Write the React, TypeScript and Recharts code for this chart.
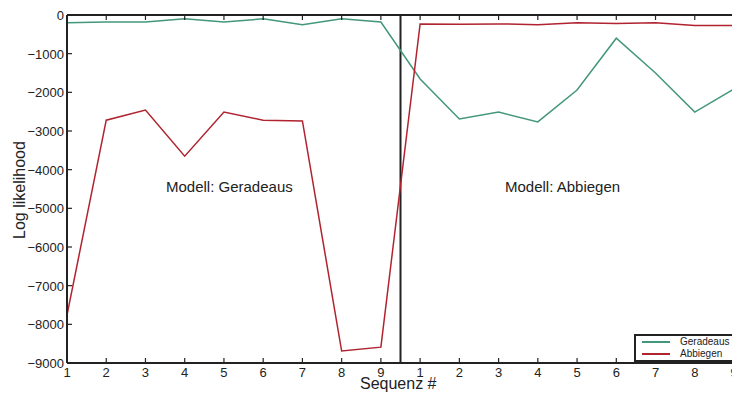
import { LineChart, Line, XAxis, YAxis, ReferenceLine } from "recharts";

// sequence labels: first block (Modell: Geradeaus), then second block (Modell: Abbiegen)
const seqLabels = ["1", "2", "3", "4", "5", "6", "7", "8", "9", "1", "2", "3", "4", "5", "6", "7", "8", "9"];
const geradeaus = [-200, -180, -180, -100, -180, -100, -250, -100, -180, -1655, -2690, -2510, -2765, -1940, -600, -1500, -2510, -1910];
const abbiegen = [-7760, -2720, -2460, -3650, -2510, -2720, -2740, -8690, -8590, -230, -240, -230, -250, -200, -220, -200, -270, -270];
const yTicks = [0, -1000, -2000, -3000, -4000, -5000, -6000, -7000, -8000, -9000];

const GREEN = "#43977a";
const RED = "#b0232f";
const INK = "#222";
const FONT = "'Liberation Sans', Arial, sans-serif";

const rows = seqLabels.map((label, i) => ({
  idx: i,
  label,
  Geradeaus: geradeaus[i],
  Abbiegen: abbiegen[i],
}));
const xTicks = rows.map((r) => r.idx);

const BottomTick = ({ x, y, payload }: any) => (
  <g>
    <line x1={x} y1={y} x2={x} y2={y - 5} stroke={INK} strokeWidth={1.2} />
    <text x={x} y={y + 14} textAnchor="middle" fontSize={13} fill={INK} fontFamily={FONT}>
      {seqLabels[payload.value]}
    </text>
  </g>
);

const TopTick = ({ x, y }: any) => <line x1={x} y1={y} x2={x} y2={y + 5} stroke={INK} strokeWidth={1.2} />;

const LeftTick = ({ x, y, payload }: any) => (
  <g>
    <line x1={x} y1={y} x2={x + 5} y2={y} stroke={INK} strokeWidth={1.2} />
    <text x={x - 3} y={y + 5} textAnchor="end" fontSize={13} fill={INK} fontFamily={FONT}>
      {payload.value === 0 ? "0" : "\u2212" + Math.abs(payload.value)}
    </text>
  </g>
);

const RightTick = ({ x, y }: any) => <line x1={x} y1={y} x2={x - 5} y2={y} stroke={INK} strokeWidth={1.2} />;

const overlay = (text: string, left: number, top: number, extra: any = {}) => (
  <div
    style={{
      position: "absolute",
      left,
      top,
      fontFamily: FONT,
      fontSize: 15,
      color: INK,
      whiteSpace: "nowrap",
      ...extra,
    }}
  >
    {text}
  </div>
);

export default function App() {
  return (
    <div style={{ position: "absolute", left: 0, top: 0, width: 732, height: 396, overflow: "hidden", background: "#fff" }}>
      <LineChart width={740} height={396} data={rows} margin={{ top: 14, right: 5, bottom: 3, left: 7 }}>
        <XAxis
          dataKey="idx"
          type="number"
          domain={[0, 17]}
          ticks={xTicks}
          height={30}
          tickSize={0}
          tickMargin={0}
          tickLine={false}
          tick={BottomTick}
          axisLine={{ stroke: INK, strokeWidth: 2 }}
          interval={0}
        />
        <XAxis
          xAxisId="top"
          orientation="top"
          dataKey="idx"
          type="number"
          domain={[0, 17]}
          ticks={xTicks}
          height={1}
          tickSize={0}
          tickMargin={0}
          tickLine={false}
          tick={TopTick}
          axisLine={{ stroke: INK, strokeWidth: 2 }}
          interval={0}
        />
        <YAxis
          domain={[-9000, 0]}
          ticks={yTicks}
          width={60}
          tickSize={0}
          tickMargin={0}
          tickLine={false}
          tick={LeftTick}
          axisLine={{ stroke: INK, strokeWidth: 2 }}
          interval={0}
        />
        <YAxis
          yAxisId="r"
          orientation="right"
          domain={[-9000, 0]}
          ticks={yTicks}
          width={1}
          tickSize={0}
          tickMargin={0}
          tickLine={false}
          tick={RightTick}
          axisLine={{ stroke: INK, strokeWidth: 2 }}
          interval={0}
        />
        <ReferenceLine x={8.5} stroke={INK} strokeWidth={2} />
        <Line dataKey="Geradeaus" stroke={GREEN} strokeWidth={1.5} dot={false} isAnimationActive={false} />
        <Line dataKey="Abbiegen" stroke={RED} strokeWidth={1.5} dot={false} isAnimationActive={false} />
      </LineChart>
      <div
        style={{
          position: "absolute",
          left: 634,
          top: 334,
          width: 98,
          border: `2px solid ${INK}`,
          borderRight: "none",
          background: "#fff",
          padding: "0 0 0 6px",
          fontFamily: FONT,
          fontSize: 10,
          color: INK,
          lineHeight: "12px",
          boxSizing: "border-box",
        }}
      >
        {[
          ["Geradeaus", GREEN],
          ["Abbiegen", RED],
        ].map(([name, color]) => (
          <div key={name} style={{ display: "flex", alignItems: "center" }}>
            <span style={{ display: "inline-block", width: 28, height: 0, borderTop: `2px solid ${color}`, marginRight: 10 }} />
            {name}
          </div>
        ))}
      </div>
      {overlay("Modell: Geradeaus", 166, 178)}
      {overlay("Modell: Abbiegen", 505, 178)}
      {overlay("Sequenz #", 360, 375, { fontSize: 16 })}
      {overlay("Log likelihood", 20, 190, {
        fontSize: 16,
        transform: "translate(-50%, -50%) rotate(-90deg)",
      })}
    </div>
  );
}
